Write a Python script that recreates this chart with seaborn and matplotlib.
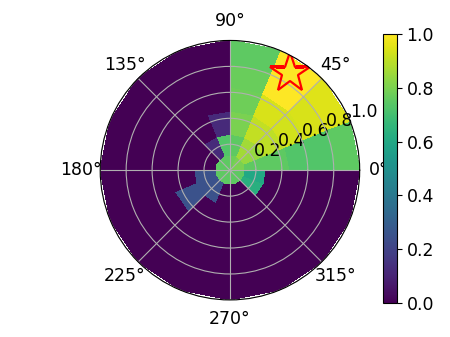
import numpy as np
import matplotlib
matplotlib.use('Agg')
import matplotlib.pyplot as plt
import seaborn as sns

# sector edges (deg) and ring edges of the polar grid
theta_edges_deg = np.arange(0, 360.1, 22.5)
r_edges = [0.0, 0.115, 0.28, 0.46, 0.64, 0.82, 1.0]

# cell values for each ring, sectors counter-clockwise starting at 0 deg
ring_0 = [0.80, 0.80, 0.80, 0.78, 0.75, 0.75, 0.75, 0.75, 0.75, 0.75, 0.75, 0.75, 0.75, 0.75, 0.75, 0.75]
ring_1 = [0.75, 0.84, 0.86, 0.75, 0.73, 0.12, 0.00, 0.00, 0.25, 0.25, 0.25, 0.00, 0.00, 0.00, 0.63, 0.60]
ring_2 = [0.75, 0.90, 0.91, 0.80, 0.12, 0.00, 0.00, 0.00, 0.00, 0.25, 0.00, 0.00, 0.00, 0.00, 0.00, 0.00]
ring_3 = [0.73, 0.93, 0.94, 0.78, 0.00, 0.00, 0.00, 0.00, 0.00, 0.00, 0.00, 0.00, 0.00, 0.00, 0.00, 0.00]
ring_4 = [0.73, 0.94, 1.00, 0.77, 0.00, 0.00, 0.00, 0.00, 0.00, 0.00, 0.00, 0.00, 0.00, 0.00, 0.00, 0.00]
ring_5 = [0.75, 0.95, 1.00, 0.75, 0.00, 0.00, 0.00, 0.00, 0.00, 0.00, 0.00, 0.00, 0.00, 0.00, 0.00, 0.00]

# marked maximum
star_theta_deg = 58
star_r = 0.88

r_ticks = [0.2, 0.4, 0.6, 0.8, 1.0]
cbar_ticks = [0.0, 0.2, 0.4, 0.6, 0.8, 1.0]


def main():
    plt.rcParams['font.size'] = 12.5
    cmap = sns.color_palette('viridis', as_cmap=True)

    fig = plt.figure(figsize=(4.5, 3.37), dpi=100)
    ax = fig.add_axes([0.222, 0.11, 0.578, 0.77], projection='polar')

    Z = np.array([ring_0, ring_1, ring_2, ring_3, ring_4, ring_5])
    T, R = np.meshgrid(np.deg2rad(theta_edges_deg), r_edges)
    mesh = ax.pcolormesh(T, R, Z, cmap=cmap, vmin=0, vmax=1, shading='flat')

    # star over the hot spot
    ax.plot(np.deg2rad(star_theta_deg), star_r, marker='*', markersize=30,
            markerfacecolor='none', markeredgecolor='red', markeredgewidth=1.6)

    ax.set_ylim(0, 1)
    ax.set_yticks(r_ticks)
    ax.grid(True)

    cax = fig.add_axes([0.851, 0.101, 0.031, 0.798])
    fig.colorbar(mesh, cax=cax, ticks=cbar_ticks)

    fig.savefig('out.png', dpi=100)
    plt.close(fig)


if __name__ == '__main__':
    main()
